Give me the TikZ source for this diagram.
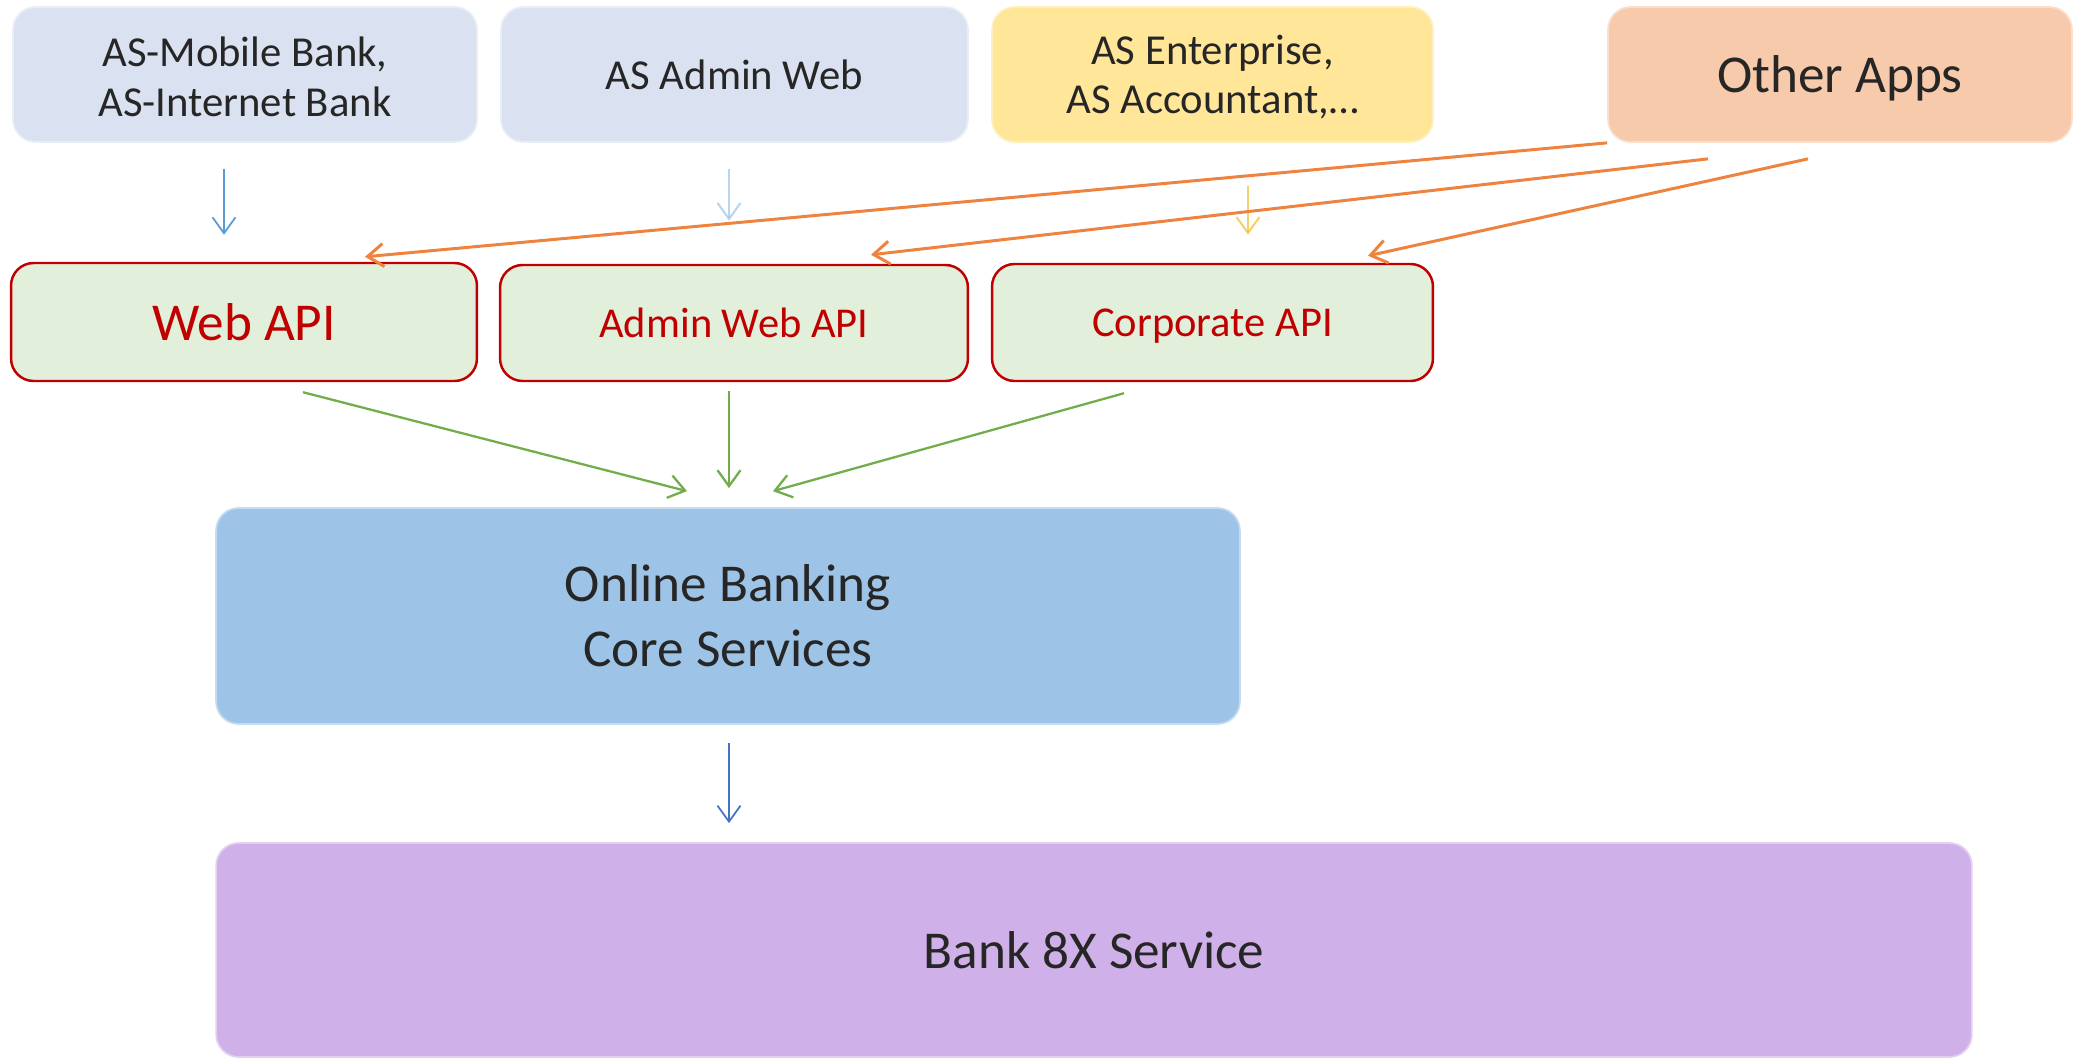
\documentclass[tikz,border=0pt]{standalone}
\usepackage{fontspec}
\setmainfont{Carlito}
\usetikzlibrary{arrows.meta,calc}
\definecolor{txtdark}{HTML}{262626}
\definecolor{redtxt}{HTML}{C00000}
\definecolor{lavfill}{HTML}{DAE1F0}
\definecolor{yelfill}{HTML}{FFE699}
\definecolor{peachfill}{HTML}{F7CAAC}
\definecolor{apifill}{HTML}{E2EFDA}
\definecolor{corefill}{HTML}{9DC3E6}
\definecolor{bankfill}{HTML}{CFB0E8}
\definecolor{orangeline}{HTML}{EE823F}
\definecolor{greenline}{HTML}{72AC4C}
\definecolor{blueline}{HTML}{5B9BD5}
\definecolor{paleblue}{HTML}{9DC3E6}
\definecolor{goldline}{HTML}{F2BE2C}
\definecolor{navyline}{HTML}{4472C4}
\begin{document}
\begin{tikzpicture}[x=0.02cm,y=-0.02cm,
  boxbase/.style={rounded corners=0.45cm, inner sep=0pt, align=center, text=txtdark},
  appbox/.style={boxbase, fill=#1, draw=#1!60!white, line width=1pt},
  apibox/.style={boxbase, fill=apifill, draw=redtxt, line width=1.4pt, text=redtxt},
  label/.style={align=center, text=#1, inner sep=0pt},
  tip/.style={-{Straight Barb[length=3.2mm,width=4.6mm]}},
  orangearr/.style={tip, draw=orangeline, line width=1.7pt},
  greenarr/.style={tip, draw=greenline, line width=1.3pt},
  bluearr/.style={tip, draw=blueline, line width=1pt},
  fadearr/.style={tip, draw=#1, line width=1.2pt, opacity=0.7},
  fsA/.style={font=\fontsize{24.3}{28.3}\selectfont},
  fsB/.style={font=\fontsize{30.3}{37}\selectfont},
  fsC/.style={font=\fontsize{24.2}{29}\selectfont}
]
\useasboundingbox (0,0) rectangle (2080,1058);

% top row
\node[appbox=lavfill, minimum width=9.28cm, minimum height=2.70cm] (b1) at (245,74.5) {};
\node[label=txtdark, fsA] (t1) at ([yshift=-0.05cm]b1.center) {AS-Mobile Bank,\\AS-Internet Bank};
\node[appbox=lavfill, fsA, minimum width=9.34cm, minimum height=2.70cm] (b2) at (734.5,74.5) {AS Admin Web};
\node[appbox=yelfill, minimum width=8.82cm, minimum height=2.70cm] (b3) at (1212.5,74.5) {};
\node[label=txtdark, fsA] (t3) at ([yshift=-0.05cm]b3.center) {AS Enterprise,\\AS Accountant,\dots};
\node[appbox=peachfill, minimum width=9.28cm, minimum height=2.70cm] (oa) at (1840,74.5) {};
\node[label=txtdark, fsB] (t4) at ([yshift=-0.08cm]oa.center) {Other Apps};

% API row
\node[apibox, fsB, minimum width=9.32cm, minimum height=2.36cm] (wa) at (244,322) {Web API};
\node[apibox, fsC, minimum width=9.36cm, minimum height=2.32cm] (aw) at (734,323) {Admin Web API};
\node[apibox, minimum width=8.82cm, minimum height=2.34cm] (ca) at (1212.5,322.5) {};
\node[label=redtxt, fsC] (t7) at ([yshift=-0.08cm]ca.center) {Corporate API};

% core
\node[appbox=corefill, fsB, minimum width=20.48cm, minimum height=4.32cm] (ob) at (728,616) {Online Banking\\Core Services};
\node[appbox=bankfill, fsB, minimum width=35.12cm, minimum height=4.28cm] (bk) at (1094,950) {Bank 8X Service};

% app -> api arrows
\draw[bluearr] ($(b1.south)+(-21,26)$) -- ($(wa.north)+(-20,-27)$);
\draw[fadearr=paleblue] ($(b2.south)+(-5.5,26)$) -- ($(aw.north)+(-5,-43)$);
\draw[fadearr=goldline] ($(b3.south)+(35.5,43)$) -- ($(ca.north)+(35.5,-28)$);

% other apps -> apis
\draw[orangearr] (oa.south west) -- ($(wa.north)+(121,-5)$);
\draw[orangearr] ($(oa.south)+(-132,16)$) -- ($(aw.north)+(137,-9)$);
\draw[orangearr] ($(oa.south)+(-32,16)$) -- ($(ca.north)+(155.5,-7)$);

% apis -> core
\draw[greenarr] ($(wa.south)+(59,10)$) -- ($(ob.north)+(-41,-16)$);
\draw[greenarr] ($(aw.south)+(-5,9)$) -- ($(ob.north)+(1,-19)$);
\draw[greenarr] ($(ca.south)+(-88.5,11)$) -- ($(ob.north)+(45,-16)$);

% core -> bank
\draw[tip, draw=navyline, line width=1pt] ($(ob.south)+(1,18)$) -- ($(bk.north)+(-365,-19)$);
\end{tikzpicture}
\end{document}
